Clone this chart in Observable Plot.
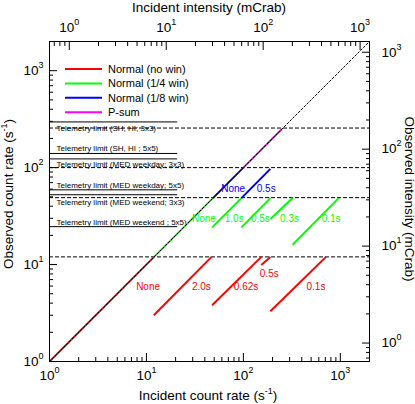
<!DOCTYPE html>
<html><head><meta charset="utf-8">
<script src="https://cdn.jsdelivr.net/npm/d3@7"></script>
<script src="https://cdn.jsdelivr.net/npm/@observablehq/plot@0.6"></script>
<style>
html,body{margin:0;padding:0;background:#fff;}
#chart{position:relative;width:415px;height:404px;}
</style></head><body><div id="chart"></div>
<script>
// ---------- data ----------
const modes = ["Normal (no win)", "Normal (1/4 win)", "Normal (1/8 win)", "P-sum"];
const modeColors = ["#ff0000", "#00ff00", "#0000ff", "#ff00ff"];
// segments along the identity line (incident = observed), per mode
const diagStart = [1, 12, 48.5, 100];
const diagEnd = [12, 48.5, 100, 250];
// burst-option segments
const burstMode = [0, 0, 0, 0, 1, 1, 1, 1, 2];
const burstX1 = [11.9, 47.6, 153, 190, 47.6, 95.4, 190, 322, 95.4];
const burstY1 = [3.0, 3.8, 9.9, 3.3, 24.2, 24.2, 29.5, 16, 48.5];
const burstX2 = [47, 153, 190, 712, 95.4, 190, 322, 961, 190];
const burstY2 = [12, 12, 12, 12, 48.5, 48.5, 48.5, 48.5, 97];
// annotations
const labelText = ["None", "2.0s", "0.62s", "0.5s", "0.1s", "None", "1.0s", "0.5s", "0.3s", "0.1s", "None", "0.5s"];
const labelMode = [0, 0, 0, 0, 0, 1, 1, 1, 1, 1, 2, 2];
const labelX = [10.4, 36.9, 106.6, 185, 561, 39.2, 80.4, 149.7, 299, 804, 78.5, 172];
const labelY = [5.96, 5.96, 5.96, 8.0, 5.96, 29.9, 29.9, 29.9, 29.9, 29.9, 61, 61];
// telemetry limits
const limitDashed = [256, 100, 49, 12];
const limitSolid = [296, 140, 123, 59, 52.5, 24.6];
const limitSolidXEnd = 21;
const telemetryText = [
  "Telemetry limit (SH, HI; 3x3)",
  "Telemetry limit (SH, HI ; 5x5)",
  "Telemetry limit (MED weekday; 3x3)",
  "Telemetry limit (MED weekday; 5x5)",
  "Telemetry limit (MED weekend; 3x3)",
  "Telemetry limit (MED weekend ; 5x5)"
];
const telemetryY = [255, 159, 107, 66, 43.7, 27.2];
const telemetryX = 1.18;
const identityLine = [1, 2000];
// ticks
const countMajor = [1, 10, 100, 1000];
const countMinor = [2,3,4,5,6,7,8,9,20,30,40,50,60,70,80,90,200,300,400,500,600,700,800,900];
const mCrabMajor = [1, 10, 100, 1000];
const mCrabMinor = [0.7,0.8,0.9,2,3,4,5,6,7,8,9,20,30,40,50,60,70,80,90,200,300,400,500,600,700,800,900];
const topFactor = 1.6;    // counts/s per mCrab (top axis)
const rightFactor = 1.55; // counts/s per mCrab (right axis)

// ---------- build ----------
const FONT = "'Liberation Sans', Arial, Helvetica, sans-serif";
const diagData = modes.map((m, i) => ({x1: diagStart[i], x2: diagEnd[i], c: modeColors[i]}));
const burstData = burstMode.map((m, i) => ({x1: burstX1[i], y1: burstY1[i], x2: burstX2[i], y2: burstY2[i], c: modeColors[m]}));
const labelData = labelText.map((t, i) => ({t, x: labelX[i], y: labelY[i], c: modeColors[labelMode[i]]}));
const telData = telemetryText.map((t, i) => ({t, y: telemetryY[i]}));
const expo = v => Math.round(Math.log10(v));
const topMajor = mCrabMajor.map(v => v * topFactor);
const topMinor = mCrabMinor.map(v => v * topFactor);
const rightMajor = mCrabMajor.map(v => v * rightFactor);
const rightMinor = mCrabMinor.map(v => v * rightFactor);
const blank = () => "";

const plot = Plot.plot({
  width: 415, height: 404,
  marginLeft: 49, marginRight: 46, marginTop: 41, marginBottom: 43,
  style: {fontFamily: FONT, fontSize: "13.5px", background: "#fff", color: "#000", overflow: "visible"},
  x: {type: "log", domain: [1, 2000], axis: null},
  y: {type: "log", domain: [1, 2000], axis: null},
  color: {type: "identity"},
  marks: [
    Plot.ruleY(limitDashed, {stroke: "#000", strokeWidth: 1, strokeDasharray: "4,2"}),
    Plot.ruleY(limitSolid, {x1: () => 1, x2: () => limitSolidXEnd, stroke: "#000", strokeWidth: 1}),
    Plot.text(telData, {x: () => telemetryX, y: "y", text: "t", textAnchor: "start", fontSize: 8, fill: "#000"}),
    Plot.link(diagData, {x1: "x1", y1: "x1", x2: "x2", y2: "x2", stroke: "c", strokeWidth: 2}),
    Plot.link(burstData, {x1: "x1", y1: "y1", x2: "x2", y2: "y2", stroke: "c", strokeWidth: 2}),
    Plot.line(identityLine, {x: d => d, y: d => d, stroke: "#000", strokeWidth: 1, strokeDasharray: "2,2"}),
    Plot.text(labelData, {x: "x", y: "y", text: "t", fill: "c", fontSize: 10}),
    Plot.frame({stroke: "#000"}),
    // bottom axis
    Plot.axisX({ticks: countMajor, anchor: "bottom", tickSize: -8, tickFormat: blank, label: null}),
    Plot.axisX({ticks: countMinor, anchor: "bottom", tickSize: -4, tickFormat: blank, label: null}),
    Plot.axisX({ticks: countMajor, anchor: "bottom", tickSize: 0, tickPadding: 9, tickFormat: d => `10^${expo(d)}`, label: null}),
    // left axis
    Plot.axisY({ticks: countMajor, anchor: "left", tickSize: -8, tickFormat: blank, label: null}),
    Plot.axisY({ticks: countMinor, anchor: "left", tickSize: -4, tickFormat: blank, label: null}),
    Plot.axisY({ticks: countMajor, anchor: "left", tickSize: 0, tickPadding: 6, tickFormat: d => `10^${expo(d)}`, label: null}),
    // top axis (mCrab)
    Plot.axisX({ticks: topMajor, anchor: "top", tickSize: -8, tickFormat: blank, label: null}),
    Plot.axisX({ticks: topMinor, anchor: "top", tickSize: -4, tickFormat: blank, label: null}),
    Plot.axisX({ticks: topMajor, anchor: "top", tickSize: 0, tickPadding: 9.5, tickFormat: d => `10^${expo(d / topFactor)}`, label: null}),
    // right axis (mCrab)
    Plot.axisY({ticks: rightMajor, anchor: "right", tickSize: -8, tickFormat: blank, label: null}),
    Plot.axisY({ticks: rightMinor, anchor: "right", tickSize: -4, tickFormat: blank, label: null}),
    Plot.axisY({ticks: rightMajor, anchor: "right", tickSize: 0, tickPadding: 12, tickFormat: d => `10^${expo(d / rightFactor)}`, label: null})
  ]
});

// superscripts on tick labels
const NS = "http://www.w3.org/2000/svg";
plot.querySelectorAll('g[aria-label$="tick label"] text').forEach(t => {
  const m = /^10\^(-?\d+)$/.exec(t.textContent);
  if (!m) return;
  t.textContent = "";
  const a = document.createElementNS(NS, "tspan"); a.textContent = "10"; t.appendChild(a);
  const b = document.createElementNS(NS, "tspan"); b.setAttribute("dy", "-7"); b.setAttribute("font-size", "9"); b.textContent = m[1]; t.appendChild(b);
});

const svg = d3.select(plot);
// titles
svg.append("text").attr("x", 209).attr("y", 12).attr("text-anchor", "middle").attr("font-size", 13.5).text("Incident intensity (mCrab)");
function supTitle(sel, pre, sup, post) {
  sel.append("tspan").text(pre);
  sel.append("tspan").attr("dy", -6).attr("font-size", 9).text(sup);
  sel.append("tspan").attr("dy", 6).text(post);
}
supTitle(svg.append("text").attr("x", 208).attr("y", 399.5).attr("text-anchor", "middle").attr("font-size", 13.5), "Incident count rate (s", "-1", ")");
supTitle(svg.append("text").attr("transform", "translate(13,194) rotate(-90)").attr("text-anchor", "middle").attr("font-size", 13.5), "Observed count rate (s", "-1", ")");
svg.append("text").attr("transform", "translate(404.5,199) rotate(90)").attr("text-anchor", "middle").attr("font-size", 13.5).text("Observed intensity (mCrab)");

// legend
const lg = svg.append("g").attr("text-anchor", "start");
modes.forEach((m, i) => {
  const yy = 69 + i * 14.4;
  lg.append("line").attr("x1", 65).attr("x2", 102).attr("y1", yy).attr("y2", yy).attr("stroke", modeColors[i]).attr("stroke-width", 2);
  lg.append("text").attr("x", 108).attr("y", yy).attr("dy", "0.35em").attr("font-size", 11).attr("text-anchor", "start").text(m);
});

document.getElementById("chart").appendChild(plot);
</script></body></html>
